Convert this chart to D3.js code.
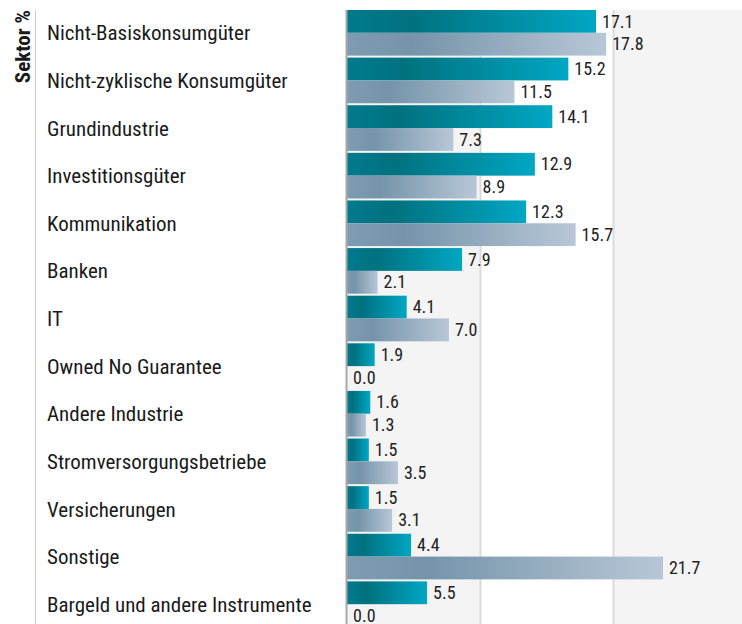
<!DOCTYPE html>
<html>
<head>
<meta charset="utf-8">
<script src="https://cdn.jsdelivr.net/npm/d3@7"></script>
<style>
  body { margin: 0; background: #fff; }
  svg { display: block; font-family: "Roboto Condensed", "Liberation Sans Narrow", Roboto, sans-serif; }
</style>
</head>
<body>
<svg id="chart"></svg>
<script>
//data
const sectors = ["Nicht-Basiskonsumgüter", "Nicht-zyklische Konsumgüter", "Grundindustrie",
  "Investitionsgüter", "Kommunikation", "Banken", "IT", "Owned No Guarantee",
  "Andere Industrie", "Stromversorgungsbetriebe", "Versicherungen", "Sonstige",
  "Bargeld und andere Instrumente"];
const fund = [17.1, 15.2, 14.1, 12.9, 12.3, 7.9, 4.1, 1.9, 1.6, 1.5, 1.5, 4.4, 5.5];
const bench = [17.8, 11.5, 7.3, 8.9, 15.7, 2.1, 7.0, 0.0, 1.3, 3.5, 3.1, 21.7, 0.0];
const seriesKeys = ["fund", "bench"];

//constants
const W = 742, H = 624;
const plotLeft = 347, plotRight = 746, plotTop = 10, plotBottom = 627;
const xMax = 27.4;

const rows = sectors.map((s, i) => ({sector: s, fund: fund[i], bench: bench[i]}));

const svg = d3.select("#chart").attr("width", W).attr("height", H);

//gradients
const defs = svg.append("defs");
const gradFund = defs.append("linearGradient").attr("id", "gFund");
gradFund.append("stop").attr("offset", "0%").attr("stop-color", "#007b8d");
gradFund.append("stop").attr("offset", "25%").attr("stop-color", "#00717f");
gradFund.append("stop").attr("offset", "100%").attr("stop-color", "#00a7c3");
const gradBench = defs.append("linearGradient").attr("id", "gBench");
gradBench.append("stop").attr("offset", "0%").attr("stop-color", "#7e9cb1");
gradBench.append("stop").attr("offset", "25%").attr("stop-color", "#7594aa");
gradBench.append("stop").attr("offset", "100%").attr("stop-color", "#b8c7d7");

//scales
const x = d3.scaleLinear().domain([0, xMax]).range([plotLeft, plotRight]);
const y = d3.scaleBand().domain(sectors).range([plotTop, plotBottom]).paddingInner(0.042).paddingOuter(0);
const ySub = d3.scaleBand().domain(seriesKeys).range([0, y.bandwidth()]);

//background bands
const bands = d3.range(3).map(i => [xMax * i / 3, xMax * (i + 1) / 3]);
svg.append("g").selectAll("rect").data(bands).enter().append("rect")
  .attr("x", d => x(d[0]))
  .attr("y", plotTop)
  .attr("width", d => x(d[1]) - x(d[0]))
  .attr("height", H - plotTop)
  .attr("fill", (d, i) => i % 2 === 0 ? "#f4f4f4" : "#ffffff");

//grid
svg.append("g")
  .attr("transform", "translate(0," + plotTop + ")")
  .call(d3.axisBottom(x).tickValues([xMax / 3, xMax * 2 / 3]).tickSize(H - plotTop).tickFormat(""))
  .call(g => g.select(".domain").remove())
  .call(g => g.selectAll("line").attr("stroke", "#dcdcdc").attr("stroke-width", 2));

//bars
const groups = svg.append("g").selectAll("g").data(rows).enter().append("g")
  .attr("transform", d => "translate(0," + y(d.sector) + ")");

groups.selectAll("rect").data(d => seriesKeys.map(k => ({key: k, value: d[k]}))).enter().append("rect")
  .attr("x", x(0))
  .attr("y", d => ySub(d.key))
  .attr("width", d => x(d.value) - x(0))
  .attr("height", ySub.bandwidth())
  .attr("fill", d => d.key === "fund" ? "url(#gFund)" : "url(#gBench)");

groups.selectAll("text").data(d => seriesKeys.map(k => ({key: k, value: d[k]}))).enter().append("text")
  .attr("x", d => x(d.value) + 6)
  .attr("y", d => ySub(d.key) + ySub.bandwidth() / 2)
  .attr("dy", "0.34em")
  .attr("font-size", 18)
  .attr("fill", "#222")
  .text(d => d.value.toFixed(1));

//left axis line
svg.append("line")
  .attr("x1", plotLeft - 0.5).attr("x2", plotLeft - 0.5)
  .attr("y1", plotTop).attr("y2", H)
  .attr("stroke", "#a8a8a8").attr("stroke-width", 2);

//category labels
svg.append("g").selectAll("text").data(sectors).enter().append("text")
  .attr("x", 47)
  .attr("y", d => y(d) + y.bandwidth() / 2)
  .attr("dy", "0.36em")
  .attr("font-size", 21)
  .attr("fill", "#1a1a1a")
  .text(d => d);

//separator line
svg.append("line")
  .attr("x1", 35.5).attr("x2", 35.5)
  .attr("y1", plotTop).attr("y2", H)
  .attr("stroke", "#cccccc").attr("stroke-width", 1);

//axis title
svg.append("text")
  .attr("transform", "translate(30," + plotTop + ") rotate(-90)")
  .attr("text-anchor", "end")
  .attr("font-size", 21)
  .attr("font-weight", "bold")
  .attr("fill", "#1a1a1a")
  .text("Sektor %");
</script>
</body>
</html>
